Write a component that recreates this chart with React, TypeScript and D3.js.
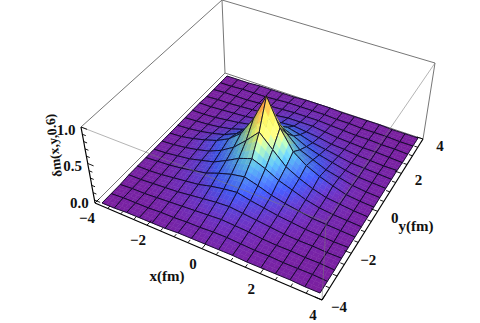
import * as d3 from "d3";

// grid nodes, -4..4 in steps of 0.5
const gridX = d3.range(-4, 4.01, 0.5);
const gridY = d3.range(-4, 4.01, 0.5);

// heights, one row per y (from y=-4 up to y=4), columns run along x
const heights = [
  [.00, .00, .01, .01, .01, .01, .02, .02, .02, .02, .02, .01, .01, .01, .01, .00, .00],
  [.00, .01, .01, .01, .02, .02, .03, .03, .04, .04, .03, .02, .02, .01, .01, .01, .00],
  [.00, .01, .01, .02, .03, .04, .05, .06, .07, .06, .05, .03, .02, .02, .01, .01, .00],
  [.01, .01, .02, .03, .04, .06, .08, .10, .11, .09, .07, .05, .03, .02, .02, .01, .01],
  [.01, .01, .02, .04, .06, .08, .12, .15, .17, .13, .10, .07, .05, .03, .02, .01, .01],
  [.01, .02, .03, .05, .08, .11, .17, .22, .25, .20, .14, .10, .07, .04, .03, .02, .01],
  [.01, .02, .04, .06, .10, .14, .22, .31, .37, .30, .21, .15, .09, .05, .03, .02, .01],
  [.01, .02, .04, .07, .11, .18, .28, .43, .60, .43, .27, .18, .11, .06, .04, .02, .01],
  [.01, .02, .05, .09, .14, .22, .35, .60, .96, .60, .35, .23, .15, .09, .04, .02, .01],
  [.01, .02, .04, .07, .11, .18, .28, .41, .58, .41, .26, .19, .12, .08, .04, .02, .01],
  [.01, .02, .03, .05, .08, .13, .20, .28, .34, .27, .19, .14, .10, .06, .03, .02, .01],
  [.01, .01, .02, .04, .06, .09, .14, .19, .22, .18, .13, .10, .07, .04, .03, .02, .01],
  [.01, .01, .02, .03, .04, .06, .09, .12, .13, .11, .09, .06, .05, .03, .02, .01, .01],
  [.00, .01, .01, .02, .03, .04, .06, .08, .08, .08, .06, .04, .03, .02, .02, .01, .00],
  [.00, .01, .01, .01, .02, .03, .04, .05, .05, .05, .04, .03, .02, .02, .01, .01, .00],
  [.00, .00, .01, .01, .01, .02, .03, .03, .03, .03, .02, .02, .01, .01, .01, .00, .00],
  [.00, .00, .00, .01, .01, .01, .01, .02, .02, .02, .01, .01, .01, .01, .00, .00, .00],
];

const xTicks = [-4, -2, 0, 2, 4];
const yTicks = [-4, -2, 0, 2, 4];
const zTicks = [0, 0.5, 1];
const minorTicks = d3.range(-4, 4.01, 0.5);
const zMinorTicks = d3.range(0, 1.01, 0.1);
const colorStops = [0, 0.06, 0.16, 0.32, 0.55, 0.8, 1];
const colorValues = ["#7a1f9e", "#6a30bc", "#3f55e6", "#4fa4cf", "#b9cf62", "#f3ab45", "#e4502c"];

type Pt = [number, number];

// maps the unit square on to a four cornered shape in the picture
function quadMap(p0: Pt, p1: Pt, p2: Pt, p3: Pt) {
  const dx1 = p1[0] - p2[0], dx2 = p3[0] - p2[0], sx = p0[0] - p1[0] + p2[0] - p3[0];
  const dy1 = p1[1] - p2[1], dy2 = p3[1] - p2[1], sy = p0[1] - p1[1] + p2[1] - p3[1];
  const den = dx1 * dy2 - dx2 * dy1;
  const g = (sx * dy2 - dx2 * sy) / den, h = (dx1 * sy - sx * dy1) / den;
  const a = p1[0] - p0[0] + g * p1[0], b = p3[0] - p0[0] + h * p3[0];
  const d = p1[1] - p0[1] + g * p1[1], e = p3[1] - p0[1] + h * p3[1];
  return (u: number, v: number): Pt => {
    const w = g * u + h * v + 1;
    return [(a * u + b * v + p0[0]) / w, (d * u + e * v + p0[1]) / w];
  };
}

const sx = d3.scaleLinear().domain([-4, 4]).range([0, 1]);
const sy = d3.scaleLinear().domain([-4, 4]).range([0, 1]);

const boxFloor = quadMap([95, 203], [322, 300], [423, 139], [225, 73]);
const boxTop = quadMap([81, 127], [326, 222], [435, 63], [222, 0]);
const sheet = quadMap([102, 203], [320, 293], [418, 138], [227, 76]);

const zBox = d3.scaleLinear().domain([0, 1]).range([0.04, 1]);

// point on the box, u and v in unit coordinates
function onBox(u: number, v: number, z: number): Pt {
  const a = boxFloor(u, v), b = boxTop(u, v);
  const t = zBox(z);
  return [a[0] + (b[0] - a[0]) * t, a[1] + (b[1] - a[1]) * t];
}

function onSheet(x: number, y: number, z: number): Pt {
  const u = sx(x), v = sy(y);
  const a = sheet(u, v), f = boxFloor(u, v), t = boxTop(u, v);
  return [a[0] + (t[0] - f[0]) * z, a[1] + (t[1] - f[1]) * z];
}

const color = d3.scaleLinear<string>().domain(colorStops).range(colorValues).interpolate(d3.interpolateRgb).clamp(true);
const line = d3.line<Pt>();
const SUB = 3;

function heightAt(i: number, j: number, s: number, t: number) {
  const h00 = heights[j][i], h10 = heights[j][i + 1], h01 = heights[j + 1][i], h11 = heights[j + 1][i + 1];
  return h00 * (1 - s) * (1 - t) + h10 * s * (1 - t) + h01 * (1 - s) * t + h11 * s * t;
}

function Cell({ i, j }: { i: number; j: number }) {
  const x0 = gridX[i], x1 = gridX[i + 1], y0 = gridY[j], y1 = gridY[j + 1];
  const at = (s: number, t: number) =>
    onSheet(x0 + (x1 - x0) * s, y0 + (y1 - y0) * t, heightAt(i, j, s, t));
  const pieces = [];
  for (let a = 0; a < SUB; a++) {
    for (let b = SUB - 1; b >= 0; b--) {
      const s0 = a / SUB, s1 = (a + 1) / SUB, t0 = b / SUB, t1 = (b + 1) / SUB;
      const mid = heightAt(i, j, (s0 + s1) / 2, (t0 + t1) / 2);
      const dzdx = (heightAt(i, j, s1, (t0 + t1) / 2) - heightAt(i, j, s0, (t0 + t1) / 2)) * SUB / 0.5;
      const dzdy = (heightAt(i, j, (s0 + s1) / 2, t1) - heightAt(i, j, (s0 + s1) / 2, t0)) * SUB / 0.5;
      // light falls from the far right of the picture
      const light = Math.max(-0.9, Math.min(0.9, 1.1 * dzdx + -1.4 * dzdy));
      const c = d3.rgb(color(mid)).darker(light);
      pieces.push(
        <path
          key={a + "-" + b}
          d={line([at(s0, t0), at(s1, t0), at(s1, t1), at(s0, t1)]) + "Z"}
          fill={c.formatHex()}
          stroke={c.formatHex()}
          strokeWidth={0.5}
        />
      );
    }
  }
  const edge = d3.range(0, 1.001, 1 / SUB);
  const rim: Pt[] = [
    ...edge.map((s) => at(s, 0)),
    ...edge.map((t) => at(1, t)),
    ...edge.map((s) => at(1 - s, 1)),
    ...edge.map((t) => at(0, 1 - t)),
  ];
  return (
    <g>
      {pieces}
      <path d={line(rim) + "Z"} fill="none" stroke="#0b0820" strokeWidth={0.9} strokeLinejoin="round" />
    </g>
  );
}

export default function App() {
  const font = { fontFamily: "'Liberation Serif', serif", fontWeight: 700, fontSize: 15, fill: "#111" };
  const cells = [];
  // painted from the far corner (x=-4, y=4) towards the near corner
  for (let i = 0; i < gridX.length - 1; i++) {
    for (let j = gridY.length - 2; j >= 0; j--) {
      cells.push(<Cell key={i + "," + j} i={i} j={j} />);
    }
  }
  const grey = { stroke: "#777", strokeWidth: 1, fill: "none" };
  const seg = (a: Pt, b: Pt) => line([a, b]) as string;

  return (
    <svg width={480} height={323} style={{ position: "absolute", left: 0, top: 0, background: "#fff" }}>
      {/* back of the box */}
      <path d={seg(boxTop(0, 1), boxTop(1, 1))} {...grey} />
      <path d={seg(boxTop(0, 1), boxTop(0, 0))} {...grey} />
      <path d={seg(boxTop(0, 1), boxFloor(0, 1))} {...grey} />
      <path d={seg(boxTop(1, 1), boxFloor(1, 1))} {...grey} />
      <path d={seg(boxFloor(0, 0), boxFloor(0, 1))} {...grey} />
      <path d={seg(boxFloor(0, 1), boxFloor(1, 1))} {...grey} />

      {cells}

      {/* near edges of the box show through the surface */}
      <path d={seg(boxTop(0, 0), boxTop(1, 0))} {...grey} strokeOpacity={0.55} />
      <path d={seg(boxTop(1, 0), boxTop(1, 1))} {...grey} strokeOpacity={0.55} />
      <path d={seg(boxTop(1, 0), boxFloor(1, 0))} {...grey} strokeOpacity={0.55} />

      {/* axes */}
      <g stroke="#000" fill="none">
        <path d={seg(boxFloor(0, 0), boxFloor(1, 0))} strokeWidth={1.2} />
        <path d={seg(boxFloor(1, 0), boxFloor(1, 1))} strokeWidth={1.2} />
        <path d={seg(boxFloor(0, 0), boxTop(0, 0))} strokeWidth={1.2} />
        {minorTicks.map((t) => {
          const len = xTicks.includes(t) ? 0.028 : 0.016;
          return <path key={"x" + t} d={seg(boxFloor(sx(t), 0), boxFloor(sx(t), len))} strokeWidth={0.9} />;
        })}
        {minorTicks.map((t) => {
          const len = yTicks.includes(t) ? 0.028 : 0.016;
          return <path key={"y" + t} d={seg(boxFloor(1, sy(t)), boxFloor(1 - len, sy(t)))} strokeWidth={0.9} />;
        })}
        {zMinorTicks.map((t) => {
          const len = zTicks.some((m) => Math.abs(m - t) < 1e-6) ? 0.028 : 0.016;
          return <path key={"z" + t} d={seg(onBox(0, 0, t), onBox(len, 0, t))} strokeWidth={0.9} />;
        })}
      </g>

      <g {...font} textAnchor="middle">
        {xTicks.map((t) => {
          const p = boxFloor(sx(t), 0);
          return <text key={t} x={p[0] - 9 + (t === -4 ? 1 : 0)} y={p[1] + 20}>{t < 0 ? "\u2212" + -t : t}</text>;
        })}
        {yTicks.map((t) => {
          const p = boxFloor(1, sy(t));
          return <text key={t} x={p[0] + 17} y={p[1] + 12}>{t < 0 ? "\u2212" + -t : t}</text>;
        })}
        {zTicks.map((t) => {
          const p = onBox(0, 0, t);
          return <text key={t} x={p[0] - 15} y={p[1] + 8}>{d3.format(".1f")(t)}</text>;
        })}
        <text x={167} y={281}>x(fm)</text>
        <text x={416} y={231}>y(fm)</text>
        <text transform="translate(58,145) rotate(-97)" fontSize={13.5}>{"\u03b4m(x,y,0.6)"}</text>
      </g>
    </svg>
  );
}
